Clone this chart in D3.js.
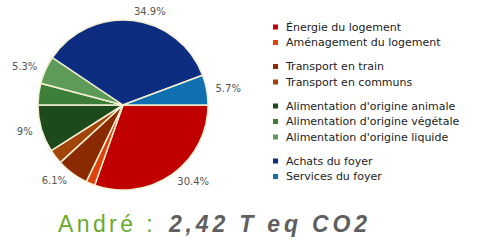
<!DOCTYPE html>
<html>
<head>
<meta charset="utf-8">
<script src="https://cdn.jsdelivr.net/npm/d3@7"></script>
<style>
  html, body { margin: 0; padding: 0; background: #fff; }
</style>
</head>
<body>
<div id="chart"></div>
<script>
// categories, values and labels
var categories = ["Énergie du logement", "Aménagement du logement",
    "Transport en train", "Transport en communs",
    "Alimentation d'origine animale", "Alimentation d'origine végétale", "Alimentation d'origine liquide",
    "Achats du foyer", "Services du foyer"];
var values = [30.4, 1.7, 6.1, 2.8, 9, 4.1, 5.3, 34.9, 5.7];
var sliceLabels = ["30.4%", "", "6.1%", "", "9%", "", "5.3%", "34.9%", "5.7%"];
var colors = ["#c00000", "#e0400a", "#8a2a00", "#a2440a", "#1c4a1c", "#3d7f38", "#5e9b58", "#0c2d80", "#0f6fb1"];
// legend groups (index of group for each category)
var groups = [0, 0, 1, 1, 2, 2, 2, 3, 3];

var width = 478, height = 248;
var cx = 123, cy = 105, radius = 85;

var svg = d3.select("#chart").append("svg")
    .attr("width", width)
    .attr("height", height);

var data = categories.map(function(c, i) {
    return {name: c, value: values[i], label: sliceLabels[i], color: colors[i]};
});

var pie = d3.pie()
    .sort(null)
    .value(function(d) { return d.value; })
    .startAngle(Math.PI / 2)
    .endAngle(Math.PI / 2 + 2 * Math.PI);

var arc = d3.arc().innerRadius(0).outerRadius(radius);
var labelR = radius + 9;

var g = svg.append("g").attr("transform", "translate(" + cx + "," + cy + ")");

g.selectAll("path.slice")
    .data(pie(data))
    .enter().append("path")
    .attr("class", "slice")
    .attr("d", arc)
    .attr("fill", function(d) { return d.data.color; })
    .attr("stroke", "#f3efd2")
    .attr("stroke-width", 1.5);

// percent labels outside the pie
g.selectAll("text.pct")
    .data(pie(data).filter(function(d) { return d.data.label != ""; }))
    .enter().append("text")
    .attr("class", "pct")
    .attr("x", function(d) { return Math.sin((d.startAngle + d.endAngle) / 2) * labelR; })
    .attr("y", function(d) { return -Math.cos((d.startAngle + d.endAngle) / 2) * labelR; })
    .attr("dy", "0.35em")
    .attr("text-anchor", function(d) { return Math.sin((d.startAngle + d.endAngle) / 2) > 0 ? "start" : "end"; })
    .style("font-family", "DejaVu Sans, sans-serif")
    .style("font-size", "10px")
    .style("fill", "#555")
    .text(function(d) { return d.data.label; });

// legend
var rowH = 15.5, groupGap = 8.5;
var legend = svg.append("g").attr("transform", "translate(273,27)");
var item = legend.selectAll("g.item")
    .data(data)
    .enter().append("g")
    .attr("class", "item")
    .attr("transform", function(d, i) { return "translate(0," + (i * rowH + groups[i] * groupGap) + ")"; });

item.append("rect")
    .attr("x", 0).attr("y", -2.5)
    .attr("width", 5).attr("height", 5)
    .attr("fill", function(d) { return d.color; });

item.append("text")
    .attr("x", 13)
    .attr("dy", "0.35em")
    .style("font-family", "DejaVu Sans, sans-serif")
    .style("font-size", "11px")
    .style("fill", "#222")
    .text(function(d) { return d.name; });

// title
svg.append("text")
    .attr("x", 58)
    .attr("y", 232)
    .style("font-family", "Liberation Sans, Arial, sans-serif")
    .style("font-size", "23px")
    .style("letter-spacing", "3.4px")
    .style("fill", "#6aaa2c")
    .text("André :");

svg.append("text")
    .attr("x", 169)
    .attr("y", 232)
    .attr("textLength", 198)
    .attr("lengthAdjust", "spacing")
    .style("font-family", "Liberation Sans, Arial, sans-serif")
    .style("font-size", "23px")
    .style("fill", "#5f5f5f")
    .style("font-weight", "bold")
    .style("font-style", "italic")
    .text("2,42 T eq CO2");
</script>
</body>
</html>
